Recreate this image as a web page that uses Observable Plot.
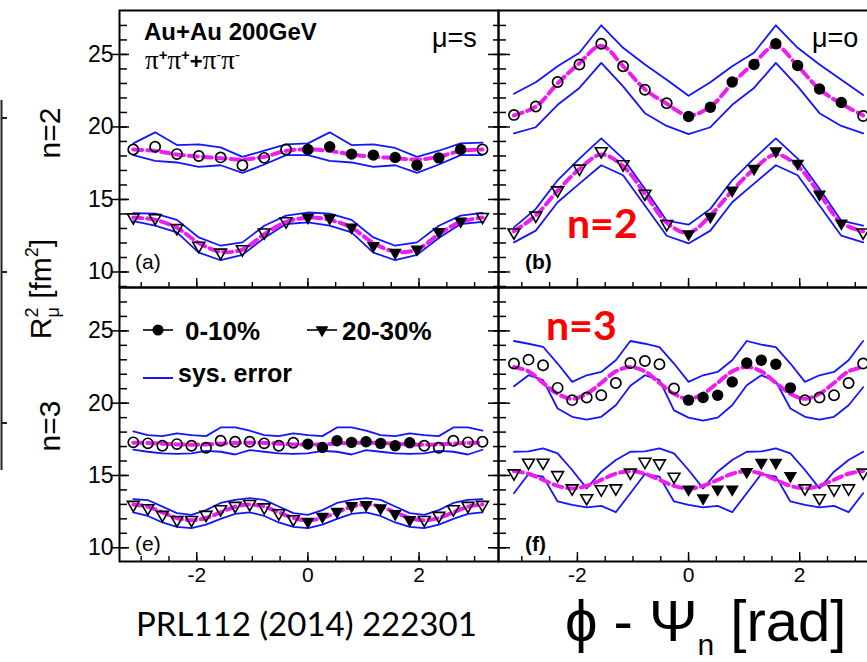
<!DOCTYPE html>
<html><head><meta charset="utf-8">
<script src="https://cdn.jsdelivr.net/npm/d3@7"></script>
<script src="https://cdn.jsdelivr.net/npm/@observablehq/plot@0.6"></script>
<style>
html,body{margin:0;padding:0;background:#fff;overflow:hidden;}
#root{position:relative;width:867px;height:662px;overflow:hidden;background:#fff;}
#root svg{position:absolute;}
</style></head><body><div id="root"></div>
<script>
// ---------- data ----------
const phiN2 = [-3.1416,-2.7489,-2.3562,-1.9635,-1.5708,-1.1781,-0.7854,-0.3927,0,0.3927,0.7854,1.1781,1.5708,1.9635,2.3562,2.7489,3.1416];
const phiN3 = [-3.1416,-2.8798,-2.6180,-2.3562,-2.0944,-1.8326,-1.5708,-1.3090,-1.0472,-0.7854,-0.5236,-0.2618,0,0.2618,0.5236,0.7854,1.0472,1.3090,1.5708,1.8326,2.0944,2.3562,2.6180,2.8798,3.1416];

// panel (a): n=2, mu=s
const aCirc    = [18.45,18.63,18.13,18.00,17.90,17.36,17.87,18.45,18.45,18.63,18.13,18.06,17.90,17.36,17.87,18.45,18.45];
const aCircHi  = [18.87,19.63,18.75,18.80,18.59,17.94,18.36,18.80,18.87,19.63,18.75,18.80,18.55,17.94,18.36,18.87,18.92];
const aCircLo  = [18.06,17.66,17.55,17.25,17.36,16.83,17.41,18.06,18.06,17.66,17.55,17.25,17.36,16.83,17.41,18.06,18.06];
const aCircFit = [18.45,18.35,18.10,17.95,17.85,17.75,17.95,18.35,18.45,18.35,18.10,17.95,17.85,17.75,17.95,18.35,18.45];
const aTri     = [13.77,13.72,13.03,11.81,11.34,11.57,12.73,13.50,13.77,13.72,13.08,11.81,11.34,11.57,12.77,13.50,13.80];
const aTriHi   = [14.05,14.03,13.59,12.38,11.81,12.04,13.19,13.89,14.10,14.03,13.59,12.38,11.81,12.04,13.19,13.89,14.08];
const aTriLo   = [13.50,13.19,12.73,11.34,10.81,11.18,12.34,13.31,13.42,13.19,12.73,11.34,10.81,11.18,12.34,13.31,13.45];
const aTriFit  = [13.75,13.60,13.05,12.00,11.40,11.55,12.60,13.45,13.75,13.60,13.05,12.00,11.40,11.55,12.60,13.45,13.75];

// panel (b): n=2, mu=o
const bCirc    = [20.83,21.41,23.10,24.31,25.74,24.19,22.57,21.64,20.72,21.36,23.10,24.31,25.74,24.24,22.62,21.69,20.76];
const bCircHi  = [22.29,23.08,24.19,25.12,27.01,25.46,24.31,23.26,22.15,23.08,24.19,25.12,27.01,25.46,24.31,23.26,22.20];
const bCircLo  = [19.56,19.98,21.53,22.69,24.42,22.80,20.95,20.07,19.51,19.98,21.53,22.69,24.42,22.80,20.95,20.07,19.56];
const bCircFit = [20.80,21.40,23.00,24.40,25.60,24.20,22.60,21.60,20.80,21.40,23.00,24.40,25.60,24.20,22.60,21.60,20.80];
const bTri     = [12.73,13.89,15.63,17.13,18.33,17.43,15.40,13.31,12.62,13.82,15.63,17.13,18.33,17.48,15.35,13.36,12.73];
const bTriHi   = [13.08,14.35,16.32,17.82,19.21,17.82,15.74,13.54,13.26,14.35,16.32,17.82,19.21,17.82,15.74,13.54,13.20];
const bTriLo   = [12.04,12.85,14.81,16.09,17.36,16.67,14.58,12.50,11.97,12.85,14.81,16.09,17.36,16.67,14.58,12.50,12.04];
const bTriFit  = [12.80,13.90,15.60,17.10,18.10,17.30,15.40,13.40,12.70,13.90,15.60,17.10,18.10,17.30,15.40,13.40,12.80];

// panel (e): n=3, mu=s
const eCirc    = [17.29,17.22,17.06,17.17,17.06,16.92,17.40,17.33,17.33,17.22,17.06,17.26,17.17,16.94,17.40,17.29,17.33,17.22,17.06,17.26,17.06,16.92,17.40,17.29,17.33];
const eCircHi  = [18.05,17.79,17.72,17.91,17.79,17.72,18.32,18.32,18.10,17.79,17.72,17.91,17.79,17.72,18.32,18.32,18.10,17.79,17.72,17.91,17.79,17.72,18.32,18.32,18.10];
const eCircLo  = [16.78,16.64,16.53,16.50,16.53,16.70,16.64,16.45,16.76,16.64,16.53,16.50,16.53,16.70,16.64,16.45,16.76,16.64,16.53,16.50,16.53,16.70,16.64,16.45,16.78];
const eCircFit = [17.27,17.25,17.20,17.15,17.13,17.15,17.20,17.25,17.27,17.25,17.20,17.15,17.13,17.15,17.20,17.25,17.27,17.25,17.20,17.15,17.13,17.15,17.20,17.25,17.27];
const eTri     = [12.97,12.74,12.28,11.93,11.93,12.28,12.67,12.90,13.03,12.80,12.39,11.98,11.82,12.16,12.50,12.90,12.97,12.74,12.34,11.93,11.93,12.21,12.67,12.90,12.97];
const eTriHi   = [13.36,13.30,12.85,12.40,12.28,12.60,13.10,13.31,13.43,13.31,12.85,12.40,12.28,12.60,13.10,13.31,13.43,13.31,12.85,12.40,12.28,12.60,13.10,13.31,13.36];
const eTriLo   = [12.45,12.20,11.75,11.45,11.36,11.60,12.00,12.35,12.45,12.20,11.75,11.45,11.36,11.60,12.00,12.35,12.45,12.20,11.75,11.45,11.36,11.60,12.00,12.35,12.45];
const eTriFit  = [13.00,12.84,12.45,12.06,11.90,12.06,12.45,12.84,13.00,12.84,12.45,12.06,11.90,12.06,12.45,12.84,13.00,12.84,12.45,12.06,11.90,12.06,12.45,12.84,13.00];

// panel (f): n=3, mu=o
const fCirc    = [22.74,23.01,22.62,21.06,20.21,20.39,20.55,21.40,22.78,22.92,22.69,21.01,20.21,20.39,20.55,21.47,22.78,22.97,22.69,21.06,20.21,20.39,20.55,21.40,22.74];
const fCircHi  = [24.30,24.11,23.90,22.74,21.47,21.93,22.16,22.97,24.30,24.11,23.88,22.74,21.47,21.93,22.16,22.97,24.30,24.05,23.88,22.74,21.47,21.93,22.16,22.97,24.30];
const fCircLo  = [21.17,21.93,21.59,19.63,19.06,18.87,19.06,19.86,21.20,21.93,21.59,19.50,19.00,18.80,19.00,19.86,21.24,21.93,21.50,19.63,19.06,18.87,19.06,19.86,21.10];
const fCircFit = [22.50,22.20,21.40,20.65,20.30,20.65,21.40,22.20,22.50,22.20,21.40,20.65,20.30,20.65,21.40,22.20,22.50,22.20,21.40,20.65,20.30,20.65,21.40,22.20,22.50];
const fTri     = [15.15,15.89,15.89,15.03,14.11,13.43,14.05,14.11,15.20,15.95,15.84,14.92,14.05,13.43,14.05,14.05,15.26,15.89,15.89,14.97,14.11,13.43,14.05,14.11,15.20];
const fTriHi   = [16.64,16.66,16.87,16.53,15.38,14.11,15.26,16.07,16.64,16.66,16.87,16.53,15.38,14.11,15.26,16.07,16.64,16.66,16.87,16.53,15.38,14.11,15.26,16.07,16.64];
const fTriLo   = [13.77,15.10,14.92,13.20,12.97,12.80,12.90,12.46,13.77,15.10,14.92,13.20,12.97,12.80,12.90,12.46,13.77,15.10,14.92,13.20,12.97,12.80,12.90,12.46,13.77];
const fTriFit  = [15.30,15.12,14.70,14.28,14.10,14.28,14.70,15.12,15.30,15.12,14.70,14.28,14.10,14.28,14.70,15.12,15.30,15.12,14.70,14.28,14.10,14.28,14.70,15.12,15.30];

// ticks
const yTickLabels = [10, 15, 20, 25];
const yMinorTicks = [9,10,11,12,13,14,15,16,17,18,19,20,21,22,23,24,25,26,27];
const xTickLabels = [-2, 0, 2];
const xMinorTicks = [-3,-2.5,-2,-1.5,-1,-0.5,0,0.5,1,1.5,2,2.5,3];

// ---------- drawing ----------
const BLUE = "#1414ff", MAG = "#ee1cee", INK = "#000";
const FONT = "'Liberation Sans', Arial, Helvetica, sans-serif";
const root = document.getElementById("root");

function rows(phi, val, lo, hi, fit, period) {
  return phi.map((p, i) => ({phi: p, val: val[i], lo: lo[i], hi: hi[i], fit: fit[i],
    filled: p >= -1e-6 && p < period - 0.05}));
}

function panel({left, top, xDomain, yDomain, h, ml, mb, circ, tri, leftLabels, bottomLabels}) {
  const w = 379;
  const inY = t => t >= yDomain[0] && t <= yDomain[1];
  const marks = [];
  for (const r of [circ, tri]) {
    marks.push(Plot.line(r, {x: "phi", y: "hi", stroke: BLUE, strokeWidth: 1.8}));
    marks.push(Plot.line(r, {x: "phi", y: "lo", stroke: BLUE, strokeWidth: 1.8}));
  }
  for (const r of [circ, tri]) {
    marks.push(Plot.line(r, {x: "phi", y: "fit", stroke: MAG, strokeWidth: 4, strokeDasharray: "9,5", curve: "catmull-rom"}));
  }
  marks.push(Plot.dot(circ.filter(d => !d.filled), {x: "phi", y: "val", r: 5.1, stroke: INK, strokeWidth: 1.7, fill: "none"}));
  marks.push(Plot.dot(circ.filter(d => d.filled), {x: "phi", y: "val", r: 5.7, fill: INK, stroke: "none"}));
  marks.push(Plot.dot(tri.filter(d => !d.filled), {x: "phi", y: "val", symbol: "triangle", rotate: 180, r: 4.4, stroke: INK, strokeWidth: 1.6, fill: "none"}));
  marks.push(Plot.dot(tri.filter(d => d.filled), {x: "phi", y: "val", symbol: "triangle", rotate: 180, r: 4.9, fill: INK, stroke: "none"}));
  marks.push(Plot.frame({stroke: INK, strokeWidth: 2}));
  marks.push(Plot.axisY(yMinorTicks.filter(inY), {anchor: "left", tickSize: 8, dx: 8, fill: "none", stroke: INK, strokeWidth: 1.5, label: null}));
  marks.push(Plot.axisY(yTickLabels.filter(inY), {anchor: "left", tickSize: leftLabels ? 17 : 12, dx: leftLabels ? 10 : 12, fill: "none", stroke: INK, strokeWidth: 1.5, label: null}));
  if (leftLabels) {
    marks.push(Plot.axisY(yTickLabels.filter(inY), {anchor: "left", tickSize: 0, tickPadding: 6, fontSize: 23, tickFormat: d => String(d), fill: INK, label: null}));
  }
  marks.push(Plot.axisY(yMinorTicks.filter(inY), {anchor: "right", tickSize: 6, dx: -6, fill: "none", stroke: INK, strokeWidth: 1.5, label: null}));
  marks.push(Plot.axisY(yTickLabels.filter(inY), {anchor: "right", tickSize: 11, dx: -11, fill: "none", stroke: INK, strokeWidth: 1.5, label: null}));
  marks.push(Plot.axisX(xMinorTicks, {anchor: "bottom", tickSize: 5, dy: -5, fill: "none", stroke: INK, strokeWidth: 1.4, label: null}));
  marks.push(Plot.axisX(xTickLabels, {anchor: "bottom", tickSize: 9, dy: -9, fill: "none", stroke: INK, strokeWidth: 1.4, label: null}));
  if (bottomLabels) {
    marks.push(Plot.axisX(xTickLabels, {anchor: "bottom", tickSize: 0, tickPadding: 6, fontSize: 21, tickFormat: d => String(d), fill: INK, label: null}));
  }
  const svg = Plot.plot({
    width: ml + w, height: h + mb,
    marginLeft: ml, marginRight: 0, marginTop: 0, marginBottom: mb,
    x: {domain: xDomain, label: null},
    y: {domain: yDomain, label: null},
    style: {background: "transparent", overflow: "visible", fontFamily: FONT, color: INK, maxWidth: "none"},
    marks
  });
  svg.style.left = left + "px";
  svg.style.top = top + "px";
  root.appendChild(svg);
}

const xL = [-3.39, 3.43], xR = [-3.42, 3.40];
const y1 = [8.93, 28.03], y2 = [9.05, 28.0];
panel({left: 0, top: 10, xDomain: xL, yDomain: y1, h: 277, ml: 119, mb: 0,
  circ: rows(phiN2, aCirc, aCircLo, aCircHi, aCircFit, Math.PI), tri: rows(phiN2, aTri, aTriLo, aTriHi, aTriFit, Math.PI),
  leftLabels: true, bottomLabels: false});
panel({left: 0, top: 287, xDomain: xL, yDomain: y2, h: 274, ml: 119, mb: 40,
  circ: rows(phiN3, eCirc, eCircLo, eCircHi, eCircFit, 2 * Math.PI / 3), tri: rows(phiN3, eTri, eTriLo, eTriHi, eTriFit, 2 * Math.PI / 3),
  leftLabels: true, bottomLabels: true});
panel({left: 498, top: 10, xDomain: xR, yDomain: y1, h: 277, ml: 0, mb: 0,
  circ: rows(phiN2, bCirc, bCircLo, bCircHi, bCircFit, Math.PI), tri: rows(phiN2, bTri, bTriLo, bTriHi, bTriFit, Math.PI),
  leftLabels: false, bottomLabels: false});
panel({left: 498, top: 287, xDomain: xR, yDomain: y2, h: 274, ml: 0, mb: 40,
  circ: rows(phiN3, fCirc, fCircLo, fCircHi, fCircFit, 2 * Math.PI / 3), tri: rows(phiN3, fTri, fTriLo, fTriHi, fTriFit, 2 * Math.PI / 3),
  leftLabels: false, bottomLabels: true});

// ---------- annotation overlay ----------
const ov = d3.create("svg").attr("width", 867).attr("height", 662)
  .style("left", "0px").style("top", "0px").style("pointer-events", "none")
  .attr("font-family", FONT).attr("fill", INK);
function txt(x, y, s, size, extra = {}) {
  const t = ov.append("text").attr("x", x).attr("y", y).attr("font-size", size).text(s);
  for (const k in extra) t.attr(k, extra[k]);
  return t;
}
txt(144, 40, "Au+Au 200GeV", 24, {"font-weight": "bold"});
const SERIF = "'Liberation Serif', 'DejaVu Serif', serif";
const pp = ov.append("text").attr("x", 145).attr("y", 69).attr("font-size", 27);
pp.append("tspan").attr("font-family", SERIF).text("π");
pp.append("tspan").attr("font-size", 15).attr("dy", -9).attr("font-weight", "bold").text("+");
pp.append("tspan").attr("dy", 9).attr("font-family", SERIF).text("π");
pp.append("tspan").attr("font-size", 15).attr("dy", -9).attr("font-weight", "bold").text("+");
pp.append("tspan").attr("dy", 9).attr("font-size", 22).attr("font-weight", "bold").text("+");
pp.append("tspan").attr("font-family", SERIF).text("π");
pp.append("tspan").attr("font-size", 15).attr("dy", -9).text("-");
pp.append("tspan").attr("dy", 9).attr("font-family", SERIF).text("π");
pp.append("tspan").attr("font-size", 15).attr("dy", -9).text("-");
txt(432, 47, "μ=s", 27);
txt(812, 47, "μ=o", 27);
txt(135, 269, "(a)", 21);
txt(135, 551, "(e)", 21);
txt(525, 269, "(b)", 21, {"font-weight": "bold"});
txt(525, 551, "(f)", 21, {"font-weight": "bold"});
txt(567, 238, "n=2", 41, {"font-family": "Lato, 'Open Sans', sans-serif", "font-weight": "bold", fill: "#ff0000"});
txt(546, 340, "n=3", 41, {"font-family": "Lato, 'Open Sans', sans-serif", "font-weight": "bold", fill: "#ff0000"});

// rotated row labels
ov.append("text").attr("transform", "translate(60,133) rotate(-90)").attr("text-anchor", "middle").attr("font-size", 30).text("n=2");
ov.append("text").attr("transform", "translate(60,426) rotate(-90)").attr("text-anchor", "middle").attr("font-size", 30).text("n=3");
const yl = ov.append("text").attr("transform", "translate(51,289) rotate(-90)").attr("text-anchor", "middle").attr("font-size", 30);
yl.append("tspan").text("R");
yl.append("tspan").attr("font-size", 18).attr("dy", -13).text("2");
yl.append("tspan").attr("font-size", 18).attr("dx", -10).attr("dy", 21).text("μ");
yl.append("tspan").attr("dy", -8).text(" [fm");
yl.append("tspan").attr("font-size", 18).attr("dy", -13).text("2");
yl.append("tspan").attr("dy", 13).text("]");

// legend
ov.append("line").attr("x1", 143).attr("x2", 173).attr("y1", 330).attr("y2", 330).attr("stroke", INK).attr("stroke-width", 1.6);
ov.append("circle").attr("cx", 158).attr("cy", 330).attr("r", 5.5).attr("fill", INK);
txt(185, 340, "0-10%", 26, {"font-weight": "bold"});
ov.append("line").attr("x1", 307).attr("x2", 337).attr("y1", 330).attr("y2", 330).attr("stroke", INK).attr("stroke-width", 1.6);
ov.append("path").attr("d", d3.symbol(d3.symbolTriangle, 70)()).attr("transform", "translate(322,330) rotate(180)").attr("fill", INK);
txt(342, 340, "20-30%", 26, {"font-weight": "bold"});
ov.append("line").attr("x1", 143).attr("x2", 173).attr("y1", 378).attr("y2", 378).attr("stroke", BLUE).attr("stroke-width", 2);
txt(178, 382, "sys. error", 25, {"font-weight": "bold"});

// remnant of neighbouring graphic at far left
ov.append("line").attr("x1", 1.5).attr("x2", 1.5).attr("y1", 100).attr("y2", 470).attr("stroke", "#222").attr("stroke-width", 2);
for (const yy of [118, 272, 423]) ov.append("line").attr("x1", 1).attr("x2", 7).attr("y1", yy).attr("y2", yy).attr("stroke", "#222").attr("stroke-width", 2);

// bottom texts
txt(136, 636, "PRL112 (2014) 222301", 33, {"font-family": "Lato, 'Open Sans', sans-serif"});
const xl = ov.append("text").attr("x", 565).attr("y", 641).attr("font-size", 58);
xl.append("tspan").text("ϕ - Ψ");
xl.append("tspan").attr("font-size", 30).attr("dy", 14).text("n");
xl.append("tspan").attr("dy", -14).text(" [rad]");

root.appendChild(ov.node());
</script>
</body></html>
